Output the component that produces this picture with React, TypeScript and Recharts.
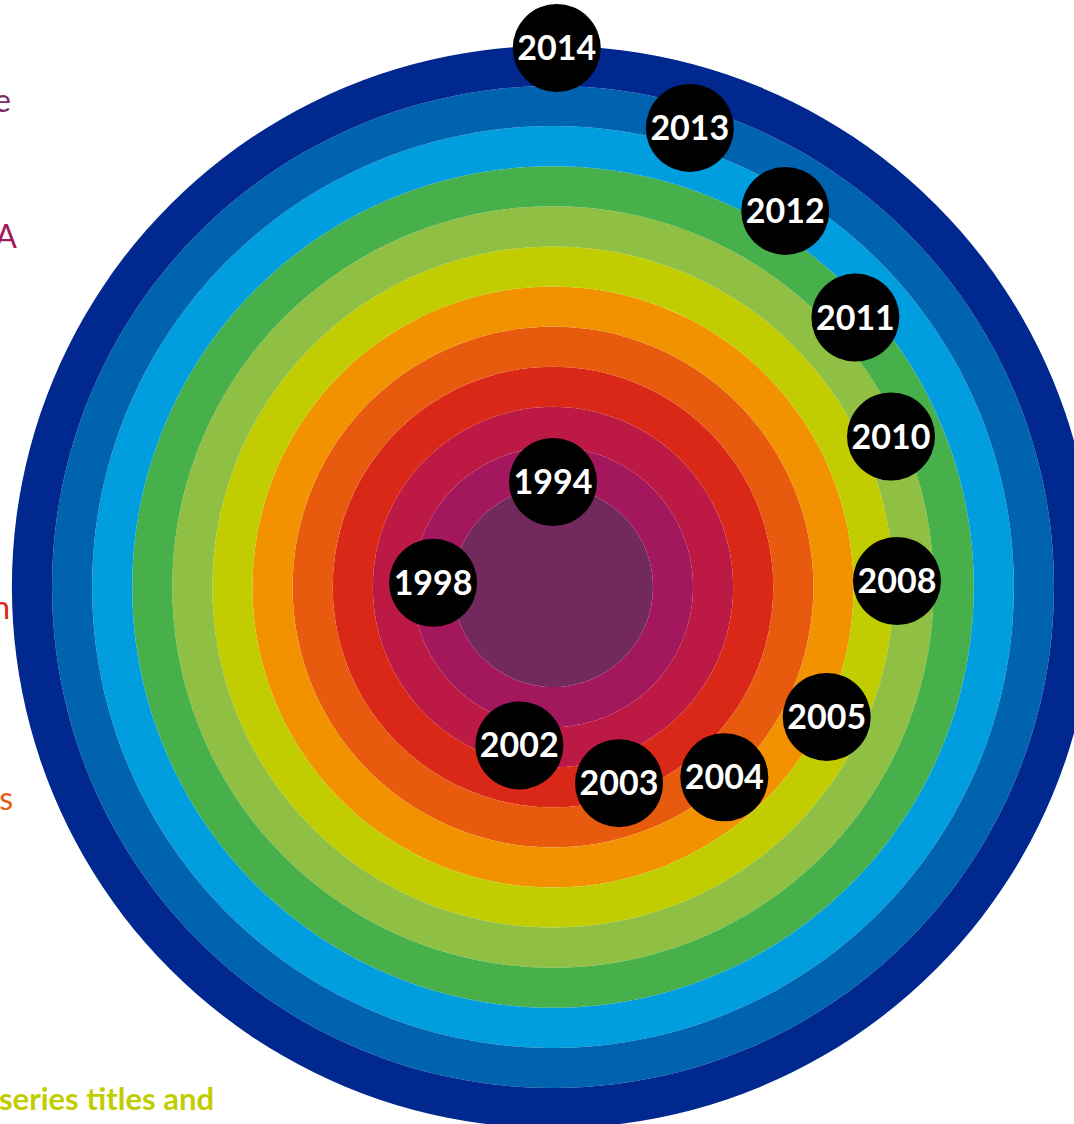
import React from "react";
import { PieChart, Pie, ScatterChart, Scatter, XAxis, YAxis } from "recharts";

// one ring per year, inner to outer
const years = ["1994", "1998", "2002", "2003", "2004", "2005", "2008", "2010", "2011", "2012", "2013", "2014"];
// where each year's badge sits: angle clockwise from 12 o'clock (deg) and distance from the centre
const badgeAngle = [0, 272, 192, 161.4, 138, 115.4, 89, 66, 48.3, 31.7, 16.6, 0.4];
const badgeRadius = [105, 120, 162, 207, 256, 303, 344, 370, 405, 442, 479, 539];

const colors = [
  "#722A5E", "#A3175C", "#BC1A45", "#DA2818", "#E85B0E", "#F29200",
  "#C1CD00", "#8FC043", "#48B04A", "#009EDF", "#0063AF", "#00288F",
];

const W = 1074;
const H = 1124;
const CX = 553;
const CY = 587;
const CORE = 100;
const RING = 40.1;

const ringOuter = (i: number) => CORE + i * RING;

const badges = years.map((year, i) => {
  const a = (badgeAngle[i] * Math.PI) / 180;
  return { year, x: badgeRadius[i] * Math.sin(a), y: badgeRadius[i] * Math.cos(a) };
});

const Badge = (props: any) => {
  const { cx, cy, payload } = props;
  return (
    <g>
      <circle cx={cx} cy={cy} r={44} fill="#000" />
      <text
        x={cx}
        y={cy}
        dy={12}
        textAnchor="middle"
        fill="#fff"
        fontFamily="Lato, sans-serif"
        fontWeight={700}
        fontSize={34}
      >
        {payload.year}
      </text>
    </g>
  );
};

export default function App() {
  const layer: React.CSSProperties = { position: "absolute", left: 0, top: 0 };
  return (
    <div style={{ position: "absolute", left: 0, top: 0, width: W, height: H, overflow: "hidden", background: "#fff" }}>
      <svg width={W} height={H} style={layer}>
        <g fontFamily="Lato, sans-serif" fontSize={32}>
          <text x={11} y={112} textAnchor="end" fill="#7A2C5F">e</text>
          <text x={17} y={248} textAnchor="end" fill="#A3175C">A</text>
          <text x={10} y={619} textAnchor="end" fill="#DA2818">n</text>
          <text x={13} y={810} textAnchor="end" fill="#E85B0E">s</text>
          <text x={214} y={1110} textAnchor="end" fill="#C1CD00" fontWeight={700} fontSize={31}>
            series titles and
          </text>
        </g>
      </svg>
      <div style={layer}>
        <PieChart width={W} height={H} margin={{ top: 0, right: 0, bottom: 0, left: 0 }}>
          {years.map((y, i) => (
            <Pie
              key={y}
              data={[{ name: y, value: 1 }]}
              dataKey="value"
              cx={CX}
              cy={CY}
              innerRadius={i === 0 ? 0 : ringOuter(i - 1)}
              outerRadius={ringOuter(i)}
              startAngle={90}
              endAngle={-270}
              fill={colors[i]}
              stroke="none"
              isAnimationActive={false}
            />
          ))}
        </PieChart>
      </div>
      <div style={layer}>
        <ScatterChart width={W} height={H} margin={{ top: 0, right: 0, bottom: 0, left: 0 }}>
          <XAxis type="number" dataKey="x" domain={[-CX, W - CX]} hide allowDataOverflow />
          <YAxis type="number" dataKey="y" domain={[CY - H, CY]} hide allowDataOverflow />
          <Scatter data={badges} shape={Badge} isAnimationActive={false} />
        </ScatterChart>
      </div>
    </div>
  );
}
